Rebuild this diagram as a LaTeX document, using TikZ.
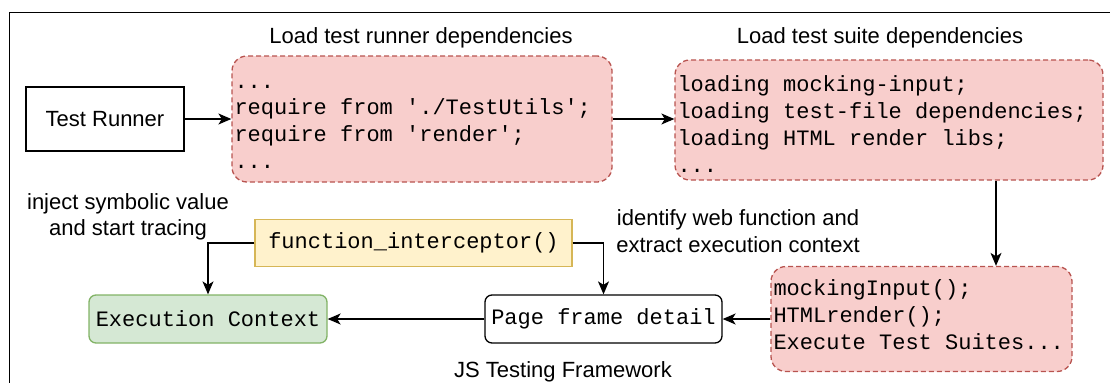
\documentclass[tikz,border=0pt]{standalone}
\usepackage{fontspec}
\setmainfont{Liberation Sans}
\setmonofont{Liberation Mono}
\usetikzlibrary{arrows.meta}

\definecolor{redfill}{HTML}{F8CECC}
\definecolor{redline}{HTML}{B85450}
\definecolor{greenfill}{HTML}{D5E8D4}
\definecolor{greenline}{HTML}{82B366}
\definecolor{yellowfill}{HTML}{FFF2CC}
\definecolor{yellowline}{HTML}{D6B656}

% struts that pad the first / last line of a code block
\newcommand{\padtop}[1]{\rule{0pt}{#1}}
\newcommand{\padbot}[1]{\rule[-#1]{0pt}{0pt}}

\tikzset{
  sansfont/.style={font=\fontsize{22}{26.5}\selectfont},
  monofont/.style={font=\ttfamily\fontsize{22}{26.7}\selectfont,
    execute at begin node={\spaceskip=13.2pt\relax}},
  lbl/.style={sansfont, inner sep=0pt},
  plainbox/.style={sansfont, draw=black, fill=white, line width=1.3pt},
  codebox/.style={monofont, draw=redline, fill=redfill, line width=1.3pt,
    dash pattern=on 5pt off 3pt, rounded corners=15pt, align=left,
    inner xsep=2.5pt, inner ysep=0pt},
  ctxbox/.style={monofont, draw=greenline, fill=greenfill, line width=1.3pt,
    rounded corners=7pt, inner sep=0pt},
  pagebox/.style={monofont, draw=black, fill=white, line width=1.3pt,
    rounded corners=7pt, inner sep=0pt},
  hookbox/.style={monofont, draw=yellowline, fill=yellowfill, line width=1.3pt,
    inner sep=0pt},
  link/.style={line width=1.3pt, draw=black,
    -{Stealth[length=13pt, width=11pt, inset=3.5pt]}},
  frame/.style={line width=1.3pt, draw=black}
}

\begin{document}
\begin{tikzpicture}[x=1pt, y=-1pt]
\useasboundingbox (0,0) rectangle (1110,383);

% outer container
\draw[frame] (1110,12.7) -- (9.3,12.7) -- (9.3,383);

% top row
\node[plainbox, minimum width=158pt, minimum height=64pt] (runner) at (105,119) {Test Runner};

\node[codebox, minimum width=380pt, minimum height=126pt, text width=375pt]
  (deps1) at (422,119)
  {\padtop{26.7pt}...\\require from './TestUtils';\\require from 'render';\\...\strut};

\node[codebox, minimum width=428pt, minimum height=118pt, text width=423pt]
  (deps2) at (889,120)
  {\padtop{32pt}loading mocking-input;\\loading test-file dependencies;\\loading HTML render libs;\\...\strut};

\node[lbl] (title1) at (421,38) {Load test runner dependencies};
\node[lbl] (title2) at (880,38) {Load test suite dependencies};

% bottom row
\node[codebox, minimum width=301pt, minimum height=105pt, text width=296pt]
  (suites) at (921.5,319)
  {\strut mockingInput();\\HTMLrender();\\Execute Test Suites...\padbot{12pt}};

\node[pagebox, minimum width=237pt, minimum height=48pt] (page) at (603.5,319) {Page frame detail};
\node[ctxbox, minimum width=238pt, minimum height=48pt] (ctx) at (208,319) {Execution Context};
\node[hookbox, minimum width=317pt, minimum height=47pt] (hook) at (413.5,243) {function\_interceptor()};

\node[lbl, align=center] (inject) at (128,217) {inject symbolic value\\and start tracing};
\node[lbl, align=center] (identify) at (738,231) {identify web function and\\extract execution context};
\node[lbl] (fwname) at (563,372) {JS Testing Framework};

% connectors
\coordinate (drop) at (996,0);
\draw[link] (runner.east) -- (runner.east -| deps1.west);
\draw[link] (deps1.east) -- (deps1.east -| deps2.west);
\draw[link] (deps2.south -| drop) -- (suites.north -| drop);
\draw[link] (suites.west) -- (page.east);
\draw[link] (page.west) -- (ctx.east);
\draw[link] (hook.west) -| (ctx.north);
\draw[link] (hook.east) -| (page.north);
\end{tikzpicture}
\end{document}
